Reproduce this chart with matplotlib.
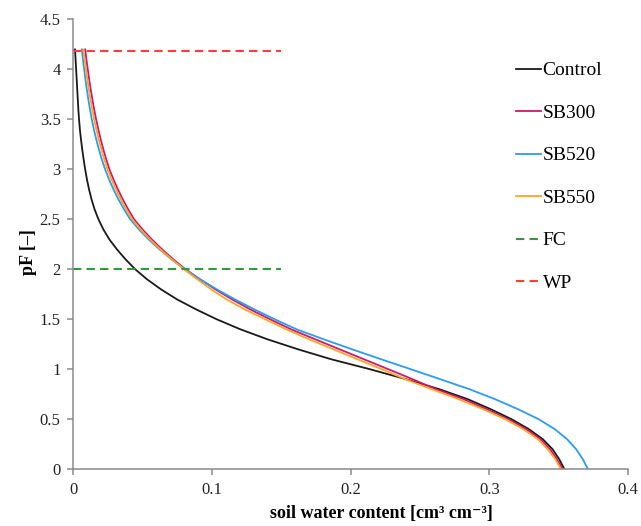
import numpy as np
import matplotlib
matplotlib.use('Agg')
from matplotlib import pyplot as plt

# pF-Stufen (gemeinsam fuer alle Kurven)
pf_levels = [4.2, 4.1, 4.0, 3.9, 3.8, 3.7, 3.6, 3.5, 3.4, 3.3, 3.2, 3.1, 3.0,
             2.9, 2.8, 2.7, 2.6, 2.5, 2.4, 2.3, 2.2, 2.1, 2.0, 1.9, 1.8, 1.7,
             1.6, 1.5, 1.4, 1.3, 1.2, 1.1, 1.0, 0.9, 0.8, 0.7, 0.6, 0.5, 0.4,
             0.3, 0.2, 0.1, 0.0]

theta_control = [0.0014, 0.0018, 0.0022, 0.0026, 0.0030, 0.0034, 0.0038, 0.0043,
                 0.0049, 0.0057, 0.0066, 0.0076, 0.0087, 0.0100, 0.0115, 0.0133,
                 0.0155, 0.0183, 0.0218, 0.0261, 0.0316, 0.0378, 0.0448, 0.0533,
                 0.0633, 0.0748, 0.0885, 0.1035, 0.1205, 0.1400, 0.1620, 0.1860,
                 0.2140, 0.2400, 0.2640, 0.2845, 0.3010, 0.3160, 0.3285, 0.3385,
                 0.3455, 0.3503, 0.3540]
theta_sb300 = [0.0087, 0.0096, 0.0106, 0.0116, 0.0127, 0.0139, 0.0152, 0.0166,
               0.0182, 0.0199, 0.0218, 0.0239, 0.0262, 0.0291, 0.0323, 0.0358,
               0.0397, 0.0440, 0.0500, 0.0567, 0.0641, 0.0722, 0.0810, 0.0915,
               0.1025, 0.1145, 0.1275, 0.1420, 0.1570, 0.1745, 0.1920, 0.2096,
               0.2272, 0.2447, 0.2615, 0.2815, 0.2980, 0.3135, 0.3265, 0.3368,
               0.3437, 0.3487, 0.3528]
theta_sb520 = [0.0063, 0.0071, 0.0080, 0.0089, 0.0099, 0.0110, 0.0122, 0.0135,
               0.0150, 0.0167, 0.0186, 0.0207, 0.0231, 0.0259, 0.0291, 0.0327,
               0.0367, 0.0412, 0.0474, 0.0544, 0.0622, 0.0709, 0.0805, 0.0915,
               0.1035, 0.1165, 0.1305, 0.1453, 0.1610, 0.1805, 0.2010, 0.2220,
               0.2434, 0.2647, 0.2857, 0.3042, 0.3207, 0.3355, 0.3472, 0.3560,
               0.3625, 0.3673, 0.3710]
theta_sb550 = [0.0074, 0.0083, 0.0093, 0.0103, 0.0114, 0.0126, 0.0139, 0.0152,
               0.0168, 0.0185, 0.0204, 0.0225, 0.0248, 0.0277, 0.0309, 0.0344,
               0.0383, 0.0426, 0.0486, 0.0554, 0.0629, 0.0711, 0.0800, 0.0895,
               0.0995, 0.1105, 0.1235, 0.1385, 0.1535, 0.1700, 0.1875, 0.2050,
               0.2225, 0.2395, 0.2585, 0.2780, 0.2955, 0.3115, 0.3245, 0.3350,
               0.3420, 0.3475, 0.3516]

# Feldkapazitaet und Welkepunkt
ref_x = [0.0, 0.15]
fc_pf = [2.0, 2.0]
wp_pf = [4.18, 4.18]

plt.rcParams['font.family'] = ['Liberation Serif', 'DejaVu Serif']

fig = plt.figure(figsize=(6.41, 5.26), dpi=100)
ax = fig.add_axes([0.114, 0.108, 0.866, 0.855])

ax.plot(theta_control, pf_levels, color='#1a1a1a', lw=1.3, label='Control')
ax.plot(theta_sb300, pf_levels, color='#d0176f', lw=1.3, label='SB300')
ax.plot(theta_sb520, pf_levels, color='#2b9cf0', lw=1.3, label='SB520')
ax.plot(theta_sb550, pf_levels, color='#ffa424', lw=1.3, label='SB550')
ax.plot(ref_x, fc_pf, color='#2e9b3a', lw=1.5, linestyle=(0, (4, 2.5)), label='FC')
ax.plot(ref_x, wp_pf, color='#ff3b3b', lw=1.5, linestyle=(0, (4, 2.5)), label='WP')

ax.set_xlim(0, 0.4)
ax.set_ylim(0, 4.5)
ax.set_xticks([0, 0.1, 0.2, 0.3, 0.4])
ax.set_xticklabels(['0', '0.1', '0.2', '0.3', '0.4'])
ax.set_yticks(np.arange(0, 4.51, 0.5))
ax.set_yticklabels(['0', '0.5', '1', '1.5', '2', '2.5', '3', '3.5', '4', '4.5'])

for s in ['top', 'right']:
    ax.spines[s].set_visible(False)
for s in ['left', 'bottom']:
    ax.spines[s].set_color('#8a8a8a')
    ax.spines[s].set_linewidth(1.1)
ax.tick_params(direction='out', length=4, width=1.1, color='#8a8a8a',
               labelsize=12, labelcolor='#222222', pad=5)

ax.set_xlabel('soil water content [cm\u00b3 cm\u207b\u00b3]', fontsize=13,
              fontweight='bold')
ax.xaxis.set_label_coords(0.555, -0.08)
ax.set_ylabel('pF [\u2013]', fontsize=13, fontweight='bold')
ax.yaxis.set_label_coords(-0.065, 0.483)

ax.legend(loc='upper left', bbox_to_anchor=(0.7655, 0.945), frameon=False,
          fontsize=14, handlelength=1.3, handletextpad=0.1, labelspacing=1.28)

plt.savefig('out.png', dpi=100)
